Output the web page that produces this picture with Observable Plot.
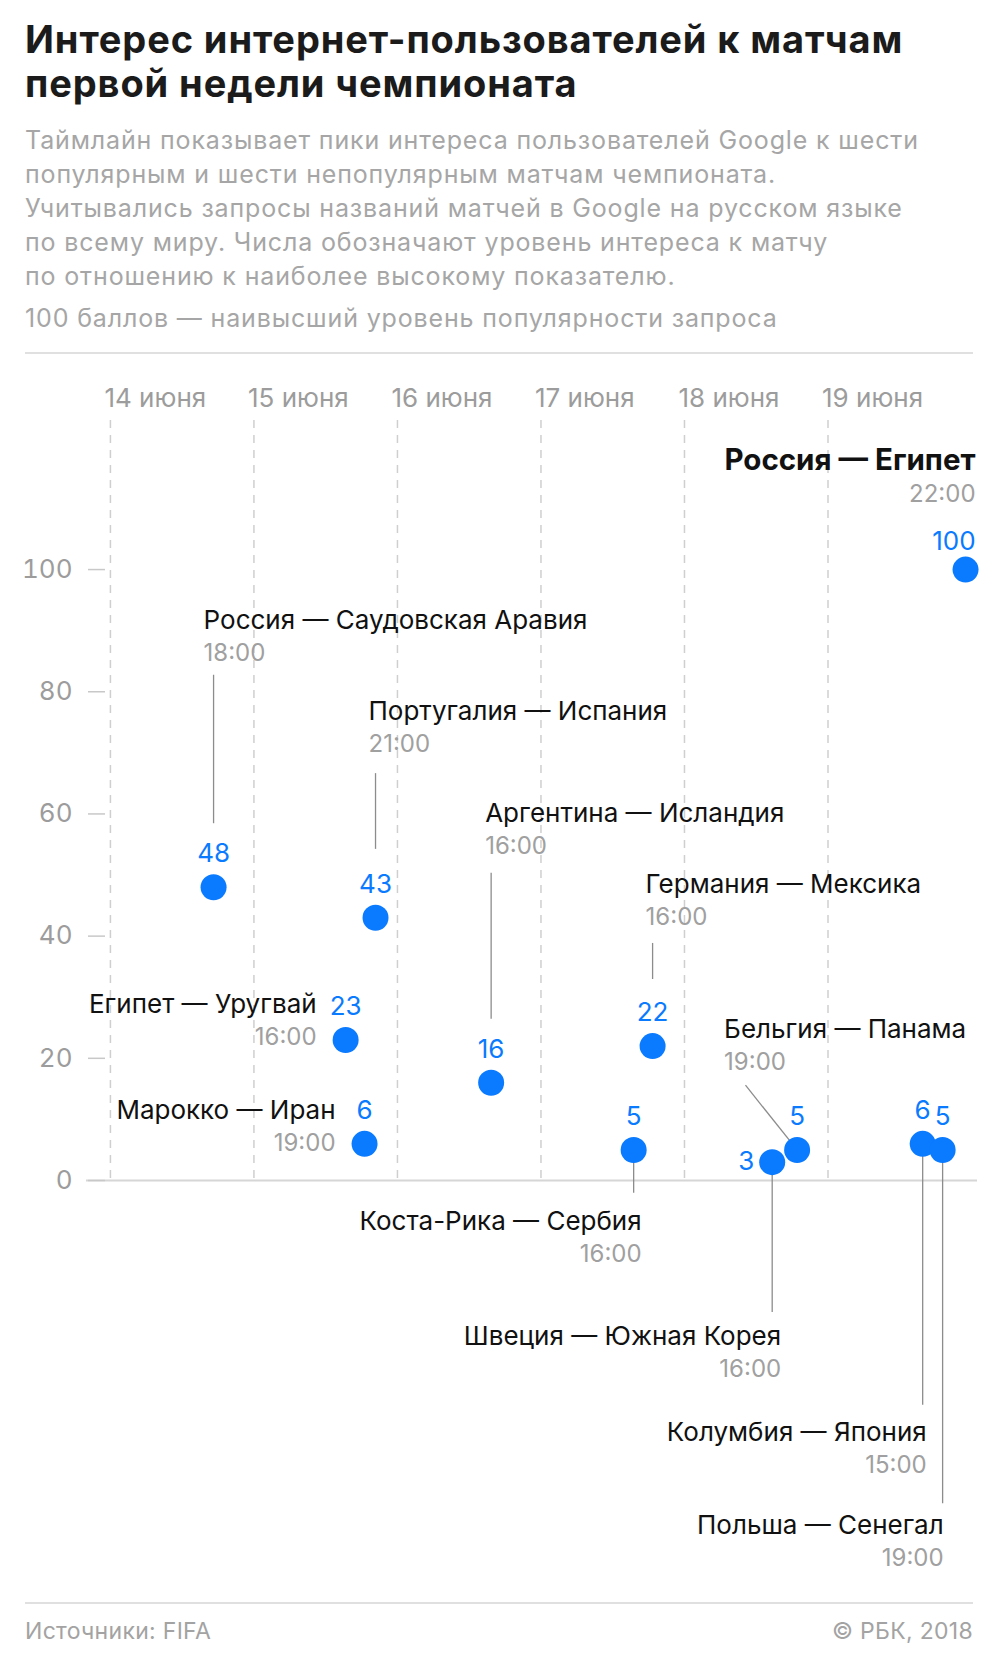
<!DOCTYPE html>
<html>
<head>
<meta charset="utf-8">
<script src="https://cdn.jsdelivr.net/npm/d3@7"></script>
<script src="https://cdn.jsdelivr.net/npm/@observablehq/plot@0.6"></script>
<style>
  body { margin: 0; background: #fff; font-family: Inter, "Noto Sans", sans-serif; }
  #page { position: relative; width: 1005px; height: 1660px; overflow: hidden; }
  .abs { position: absolute; margin: 0; white-space: nowrap; }
  h1.abs { left: 25px; top: 17px; font-size: 38px; line-height: 44px; letter-spacing: 0.9px; font-weight: 700; color: #1b1b1b; }
  .sub { left: 25px; font-size: 25px; line-height: 34.1px; letter-spacing: 0.85px; color: #a6a6a6; }
  .rule { position: absolute; left: 25px; width: 948px; height: 2px; background: #e0e0e0; }
  #chart { position: absolute; left: 0; top: 355px; }
  .foot { top: 1616px; font-size: 23px; line-height: 30px; letter-spacing: 0.3px; color: #a3a3a3; }
</style>
</head>
<body>
<div id="page">
  <h1 class="abs">Интерес интернет-пользователей к матчам<br>первой недели чемпионата</h1>
  <p class="abs sub" style="top:123px">Таймлайн показывает пики интереса пользователей Google к шести<br>популярным и шести непопулярным матчам чемпионата.<br>Учитывались запросы названий матчей в Google на русском языке<br>по всему миру. Числа обозначают уровень интереса к матчу<br>по отношению к наиболее высокому показателю.</p>
  <p class="abs sub" style="top:301px">100 баллов — наивысший уровень популярности запроса</p>
  <div class="rule" style="top:352px"></div>
  <div id="chart"></div>
  <div class="rule" style="top:1602px"></div>
  <p class="abs foot" style="left:25px">Источники: FIFA</p>
  <p class="abs foot" style="right:32px">© РБК, 2018</p>
</div>
<script>
// ---- data ----
const matches = [
  "Россия — Египет", "Россия — Саудовская Аравия", "Португалия — Испания",
  "Аргентина — Исландия", "Германия — Мексика", "Египет — Уругвай",
  "Бельгия — Панама", "Марокко — Иран", "Коста-Рика — Сербия",
  "Швеция — Южная Корея", "Колумбия — Япония", "Польша — Сенегал"
];
const kickoff = ["22:00", "18:00", "21:00", "16:00", "16:00", "16:00", "19:00", "19:00", "16:00", "16:00", "15:00", "19:00"];
const peakTime = [
  "2018-06-19T23:00", "2018-06-14T17:15", "2018-06-15T20:20",
  "2018-06-16T15:40", "2018-06-17T18:40", "2018-06-15T15:20",
  "2018-06-18T18:50", "2018-06-15T18:30", "2018-06-17T15:30",
  "2018-06-18T14:40", "2018-06-19T15:50", "2018-06-19T19:10"
];
const interest = [100, 48, 43, 16, 22, 23, 5, 6, 5, 3, 6, 5];
const days = ["2018-06-14", "2018-06-15", "2018-06-16", "2018-06-17", "2018-06-18", "2018-06-19"];
const dayLabels = ["14 июня", "15 июня", "16 июня", "17 июня", "18 июня", "19 июня"];
const yTicks = [0, 20, 40, 60, 80, 100];

// ---- annotation layout (label line y and leader extents in value units) ----
const labelAnchor = ["end", "start", "start", "start", "start", "end", "start", "end", "end", "end", "end", "end"];
const labelDx     = [10, -10, -7, -6, -7, -29, -73, -29, 8, 9, 4, 1];
const labelY      = [116.3, 90.3, 75.3, 58.6, 47.1, 27.4, 23.3, 10.1, -8.1, -27.0, -42.6, -57.8];
const leadTop     = [null, 82.7, 66.6, 50.3, 38.8, null, null, null, null, null, null, null];
const leadBottom  = [null, 58.4, 54.2, 26.4, 32.9, null, null, null, -2.1, -21.6, -36.8, -52.9];
const diagStart   = {time: "2018-06-18T10:12", value: 15.6, match: 6};

const utc = s => new Date(s + (s.length === 10 ? "T00:00Z" : "Z"));
const rows = matches.map((m, i) => ({
  match: m, kickoff: kickoff[i], t: utc(peakTime[i]), v: interest[i],
  anchor: labelAnchor[i], dx: labelDx[i], ly: labelY[i],
  lt: leadTop[i], lb: leadBottom[i], bold: i === 0
}));
const dayRows = days.map((d, i) => ({t: utc(d), label: dayLabels[i]}));

const leaders = rows.filter(r => r.lb !== null).map(r => ({
  t: r.t, y1: r.lt === null ? r.v : r.lt, y2: r.lb
}));
const diag = [{x1: utc(diagStart.time), y1: diagStart.value, x2: rows[diagStart.match].t, y2: rows[diagStart.match].v}];

const blue = "#0a7aff";
const grey = "#a0a0a0";

const valueNormal = rows.filter((r, i) => i !== 0 && i !== 9);
const valueRight = rows.filter((r, i) => i === 0);
const valueLeft = rows.filter((r, i) => i === 9);

const plot = Plot.plot({
  width: 1005,
  height: 1245,
  marginLeft: 86,
  marginRight: 28,
  marginTop: 65,
  marginBottom: 420,
  style: {fontFamily: "Inter, 'Noto Sans', sans-serif", background: "transparent", overflow: "visible"},
  x: {type: "utc", domain: [utc("2018-06-13T20:00"), utc("2018-06-20T01:00")], axis: null},
  y: {domain: [0, 124.4], axis: null},
  marks: [
    Plot.ruleX(dayRows, {x: "t", stroke: "#cfcfcf", strokeWidth: 1.5, strokeDasharray: "8,7"}),
    Plot.text(dayRows, {x: "t", text: "label", frameAnchor: "top", dy: -14, dx: -6, textAnchor: "start", lineAnchor: "bottom", fill: "#9c9c9c", fontSize: 26}),
    Plot.ruleY([0], {stroke: "#d6d6d6", strokeWidth: 2}),
    Plot.axisY(yTicks, {anchor: "left", tickSize: 17, tickPadding: 16, dx: 19, stroke: "#c8c8c8", fill: "#9c9c9c", fontSize: 26, strokeWidth: 1.5, label: null}),
    Plot.ruleX(leaders, {x: "t", y1: "y1", y2: "y2", stroke: "#8c8c8c", strokeWidth: 1.3}),
    Plot.link(diag, {x1: "x1", y1: "y1", x2: "x2", y2: "y2", stroke: "#8c8c8c", strokeWidth: 1.3}),
    Plot.dot(rows, {x: "t", y: "v", r: 13, fill: blue}),
    // value labels
    Plot.text(valueNormal, {x: "t", y: "v", text: d => String(d.v), dy: -25, lineAnchor: "bottom", fill: blue, fontSize: 26}),
    Plot.text(valueRight, {x: "t", y: "v", text: d => String(d.v), dy: -20, dx: 10, textAnchor: "end", lineAnchor: "bottom", fill: blue, fontSize: 26}),
    Plot.text(valueLeft, {x: "t", y: "v", text: d => String(d.v), dy: 8, dx: -18, textAnchor: "end", lineAnchor: "bottom", fill: blue, fontSize: 26}),
    // match names and kickoff times
    ...rows.map(r => Plot.text([r], {x: "t", y: "ly", text: "match", dx: r.dx, textAnchor: r.anchor, lineAnchor: "bottom",
      fill: "#111", fontSize: r.bold ? 29.5 : 26, fontWeight: r.bold ? 700 : 400})),
    ...rows.map(r => Plot.text([r], {x: "t", y: "ly", text: "kickoff", dx: r.dx, dy: 32, textAnchor: r.anchor, lineAnchor: "bottom",
      fill: grey, fontSize: 24}))
  ]
});
document.getElementById("chart").appendChild(plot);
</script>
</body>
</html>
